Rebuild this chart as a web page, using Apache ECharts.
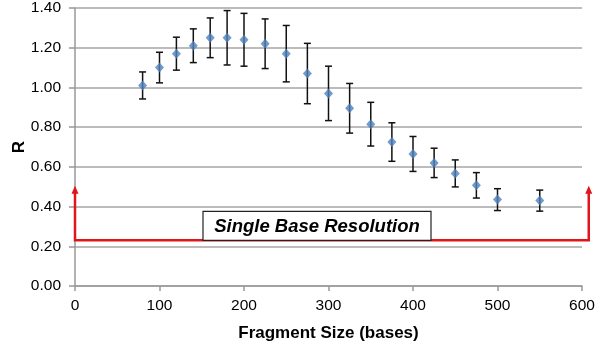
<!DOCTYPE html>
<html>
<head>
<meta charset="utf-8">
<script src="https://cdn.jsdelivr.net/npm/echarts@6/dist/echarts.min.js"></script>
<style>
  html, body { margin: 0; padding: 0; background: #fff; }
  #chart { width: 600px; height: 345px; }
</style>
</head>
<body>
<div id="chart"></div>
<script>
// Fragment sizes (bases) and the measured R with its ± error
const fragmentSize = [80, 100, 120, 140, 160, 180, 200, 225, 250, 275, 300, 325, 350, 375, 400, 425, 450, 475, 500, 550];
const rValue      = [1.01, 1.10, 1.17, 1.21, 1.25, 1.25, 1.24, 1.22, 1.17, 1.07, 0.97, 0.895, 0.815, 0.725, 0.665, 0.62, 0.567, 0.507, 0.435, 0.43];
const rError      = [0.068, 0.077, 0.083, 0.085, 0.10, 0.137, 0.133, 0.125, 0.142, 0.152, 0.137, 0.125, 0.11, 0.097, 0.088, 0.074, 0.068, 0.064, 0.055, 0.053];

// Bracket marking the single-base-resolution range
const bracketX = [0, 608];
const bracketBase = 0.23;
const bracketTop = 0.50;
const bracketLabel = 'Single Base Resolution';

const font = 'Liberation Sans, Arial, sans-serif';

const points = fragmentSize.map((x, i) => [x, rValue[i]]);
const errorData = fragmentSize.map((x, i) => [x, rValue[i] - rError[i], rValue[i] + rError[i]]);

const chart = echarts.init(document.getElementById('chart'), null, { renderer: 'canvas' });

chart.setOption({
  animation: false,
  backgroundColor: '#ffffff',
  grid: { left: 75, right: 18, top: 8, bottom: 59, containLabel: false, outerBoundsMode: 'none' },
  xAxis: {
    type: 'value',
    min: 0, max: 600, interval: 100,
    name: 'Fragment Size (bases)',
    nameLocation: 'middle',
    nameGap: 39,
    nameMoveOverlap: false,
    nameTextStyle: { fontFamily: font, fontSize: 17, fontWeight: 'bold', color: '#000' },
    axisLine: { show: true, lineStyle: { color: '#999', width: 1.5 } },
    axisTick: { show: true, length: 5, lineStyle: { color: '#999', width: 1.5 } },
    axisLabel: { fontFamily: font, fontSize: 15.5, color: '#000', margin: 12 },
    splitLine: { show: false }
  },
  yAxis: {
    type: 'value',
    min: 0, max: 1.4, interval: 0.2,
    name: 'R',
    nameLocation: 'middle',
    nameGap: 47,
    nameRotate: 90,
    nameMoveOverlap: false,
    nameTextStyle: { fontFamily: font, fontSize: 17, fontWeight: 'bold', color: '#000' },
    axisLine: { show: true, lineStyle: { color: '#999', width: 1.5 } },
    axisTick: { show: true, length: 6, lineStyle: { color: '#999', width: 1.5 } },
    axisLabel: { fontFamily: font, fontSize: 15.5, color: '#000', margin: 14,
                 formatter: v => v.toFixed(2) },
    splitLine: { show: true, lineStyle: { color: '#a6a6a6', width: 1.5 } }
  },
  series: [
    {
      // red bracket with arrowheads at both ends
      type: 'custom',
      clip: false,
      z: 3,
      data: [[bracketX[0], bracketX[1], bracketBase, bracketTop]],
      renderItem: (params, api) => {
        const x0 = api.value(0), x1 = api.value(1), yb = api.value(2), yt = api.value(3);
        const pl = api.coord([x0, yb]);
        const pr = api.coord([x1, yb]);
        const tl = api.coord([x0, yt]);
        const tr = api.coord([x1, yt]);
        const red = '#e0161b';
        const head = (p) => ({
          type: 'polygon',
          shape: { points: [[p[0], p[1] - 1], [p[0] - 3.5, p[1] + 7], [p[0] + 3.5, p[1] + 7]] },
          style: { fill: red }
        });
        return {
          type: 'group',
          children: [
            {
              type: 'polyline',
              shape: { points: [[tl[0], tl[1] + 5], pl, pr, [tr[0], tr[1] + 5]] },
              style: { stroke: red, lineWidth: 2.5, fill: null }
            },
            head(tl),
            head(tr)
          ]
        };
      }
    },
    {
      // label box sitting on the bracket
      type: 'custom',
      clip: false,
      z: 4,
      data: [[bracketBase]],
      renderItem: (params, api) => {
        const base = api.coord([0, api.value(0)]);
        const left = 203, right = 431;
        const h = 29;
        return {
          type: 'group',
          children: [
            {
              type: 'rect',
              shape: { x: left, y: base[1] - h, width: right - left, height: h },
              style: { fill: '#fff', stroke: '#222', lineWidth: 1.2 }
            },
            {
              type: 'text',
              style: {
                x: (left + right) / 2, y: base[1] - h / 2 + 1,
                text: bracketLabel,
                align: 'center', verticalAlign: 'middle',
                font: 'italic bold 18.5px ' + font,
                fill: '#000'
              }
            }
          ]
        };
      }
    },
    {
      // error bars
      type: 'custom',
      z: 5,
      data: errorData,
      renderItem: (params, api) => {
        const x = api.value(0);
        const lo = api.coord([x, api.value(1)]);
        const hi = api.coord([x, api.value(2)]);
        const cap = 3.5;
        const st = { stroke: '#111', lineWidth: 1.5 };
        return {
          type: 'group',
          children: [
            { type: 'line', shape: { x1: lo[0], y1: lo[1], x2: hi[0], y2: hi[1] }, style: st },
            { type: 'line', shape: { x1: hi[0] - cap, y1: hi[1], x2: hi[0] + cap, y2: hi[1] }, style: st },
            { type: 'line', shape: { x1: lo[0] - cap, y1: lo[1], x2: lo[0] + cap, y2: lo[1] }, style: st }
          ]
        };
      }
    },
    {
      type: 'scatter',
      z: 6,
      data: points,
      symbol: 'diamond',
      symbolSize: [9, 10],
      itemStyle: { color: '#4f81bd' }
    }
  ]
});
</script>
</body>
</html>
